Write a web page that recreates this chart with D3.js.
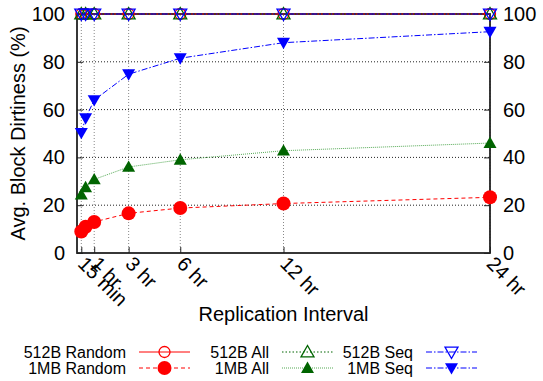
<!DOCTYPE html>
<html>
<head>
<meta charset="utf-8">
<script src="https://cdn.jsdelivr.net/npm/d3@7"></script>
<style>
  html, body { margin: 0; padding: 0; background: #fff; }
  svg { display: block; font-family: "Liberation Sans", Arial, Helvetica, sans-serif; }
</style>
</head>
<body>
<svg id="chart" width="543" height="381"></svg>
<script>
// Replication interval in hours
const intervals = [0.25, 0.5, 1, 3, 6, 12, 24];
const tickHours = [0.25, 1, 3, 6, 12, 24];
const tickLabels = ["15 min", "1 hr", "3 hr", "6 hr", "12 hr", "24 hr"];
const yTicks = [0, 20, 40, 60, 80, 100];

// Average block dirtiness (%) per series
const random512B = [100, 100, 100, 100, 100, 100, 100];
const random1MB  = [9.0, 11.0, 13.0, 16.6, 18.8, 20.7, 23.3];
const all512B    = [100, 100, 100, 100, 100, 100, 100];
const all1MB     = [24.4, 27.5, 30.8, 36.0, 39.0, 42.8, 46.0];
const seq512B    = [100, 100, 100, 100, 100, 100, 100];
const seq1MB     = [50.3, 56.4, 64.0, 74.8, 81.5, 88.0, 92.6];

const series = [
  { name: "512B Random", values: random512B, color: "#ff0000", lineColor: "#ff0000", dash: null, marker: "circle", filled: false },
  { name: "1MB Random",  values: random1MB,  color: "#ff0000", lineColor: "#ff0000", dash: "4,3", marker: "circle", filled: true },
  { name: "512B All",    values: all512B,    color: "#006400", lineColor: "#006400", dash: "1.5,2", marker: "triangle", filled: false },
  { name: "1MB All",     values: all1MB,     color: "#006400", lineColor: "#55aa55", dash: "1,1", marker: "triangle", filled: true },
  { name: "512B Seq",    values: seq512B,    color: "#0000ff", lineColor: "#0000ff", dash: "6,2,1.5,2", marker: "invtriangle", filled: false },
  { name: "1MB Seq",     values: seq1MB,     color: "#0000ff", lineColor: "#0000ff", dash: "6,2,1.5,2", marker: "invtriangle", filled: true }
];

const svg = d3.select("#chart");
const margin = { left: 77, right: 53, top: 14, bottom: 128 };
const W = 543, H = 381;
const x = d3.scaleLinear().domain([0, 24]).range([margin.left, W - margin.right]);
const y = d3.scaleLinear().domain([0, 100]).range([H - margin.bottom, margin.top]);

const tickFont = 20;
const titleFont = 20;

// Grid: horizontal dotted lines
svg.append("g").selectAll("line").data(yTicks.filter(v => v > 0 && v < 100)).join("line")
  .attr("x1", x(0)).attr("x2", x(24))
  .attr("y1", d => y(d)).attr("y2", d => y(d))
  .attr("stroke", "#222").attr("stroke-width", 1).attr("stroke-dasharray", "1,2");

// Grid: vertical dotted lines at interval ticks
svg.append("g").selectAll("line").data(tickHours).join("line")
  .attr("x1", d => x(d)).attr("x2", d => x(d))
  .attr("y1", y(0)).attr("y2", y(100))
  .attr("stroke", "#888").attr("stroke-width", 1).attr("stroke-dasharray", "1,2");

// Left and right axes
const leftAxis = d3.axisLeft(y).tickValues(yTicks).tickSize(-6).tickPadding(12);
const rightAxis = d3.axisRight(y).tickValues(yTicks).tickSize(-6).tickPadding(13);
const gl = svg.append("g").attr("transform", `translate(${x(0)},0)`).call(leftAxis);
const gr = svg.append("g").attr("transform", `translate(${x(24)},0)`).call(rightAxis);
[gl, gr].forEach(g => {
  g.select(".domain").remove();
  g.selectAll("text").attr("font-size", tickFont).attr("fill", "#000")
    .style("font-family", "Liberation Sans, Arial, sans-serif");
  g.selectAll("line").attr("stroke", "#222");
});

// Bottom axis with rotated labels
const bottomAxis = d3.axisBottom(x).tickValues(tickHours).tickFormat((d, i) => tickLabels[i]).tickSize(-6);
const gb = svg.append("g").attr("transform", `translate(0,${y(0)})`).call(bottomAxis);
gb.select(".domain").remove();
gb.selectAll("line").attr("stroke", "#222");
gb.selectAll("text")
  .attr("font-size", tickFont).attr("fill", "#000")
  .style("font-family", "Liberation Sans, Arial, sans-serif")
  .attr("text-anchor", "start")
  .attr("dy", null).attr("y", 0)
  .attr("transform", "translate(-5,12) rotate(45)");

// Frame
svg.append("rect")
  .attr("x", x(0)).attr("y", y(100))
  .attr("width", x(24) - x(0)).attr("height", y(0) - y(100))
  .attr("fill", "none").attr("stroke", "#222").attr("stroke-width", 1.8);

// Marker symbols
function drawMarker(g, kind, cx, cy, color, filled) {
  if (kind === "circle") {
    g.append("circle").attr("cx", cx).attr("cy", cy).attr("r", filled ? 7 : 5.5)
      .attr("fill", filled ? color : "none").attr("stroke", color).attr("stroke-width", filled ? 0 : 1.3);
  } else {
    const s = 6.5;
    const pts = kind === "triangle"
      ? [[cx, cy - s], [cx - s, cy + s * 0.75], [cx + s, cy + s * 0.75]]
      : [[cx, cy + s], [cx - s, cy - s * 0.75], [cx + s, cy - s * 0.75]];
    g.append("polygon").attr("points", pts.map(p => p.join(",")).join(" "))
      .attr("fill", filled ? color : "none").attr("stroke", color).attr("stroke-width", filled ? 0 : 1.3);
  }
}

const line = d3.line().x(d => x(d[0])).y(d => y(d[1]));
const plot = svg.append("g");
series.forEach(s => {
  const pts = intervals.map((h, i) => [h, s.values[i]]);
  plot.append("path").attr("d", line(pts))
    .attr("fill", "none").attr("stroke", s.lineColor).attr("stroke-width", 1)
    .attr("stroke-dasharray", s.dash);
});
series.forEach(s => {
  const g = plot.append("g");
  intervals.forEach((h, i) => drawMarker(g, s.marker, x(h), y(s.values[i]), s.color, s.filled));
});

// Axis titles
svg.append("text")
  .attr("transform", `translate(25,${(y(0) + y(100)) / 2}) rotate(-90)`)
  .attr("text-anchor", "middle").attr("font-size", titleFont).attr("fill", "#000")
  .text("Avg. Block Dirtiness (%)");
svg.append("text")
  .attr("x", (x(0) + x(24)) / 2).attr("y", 321)
  .attr("text-anchor", "middle").attr("font-size", titleFont).attr("fill", "#000")
  .text("Replication Interval");

// Legend: three columns, two rows
const legend = svg.append("g");
const colTextRight = [126, 269, 413];
const rowY = [352, 368];
series.forEach((s, i) => {
  const col = Math.floor(i / 2), row = i % 2;
  const tx = colTextRight[col], ty = rowY[row];
  legend.append("text").attr("x", tx).attr("y", ty).attr("dy", "0.35em")
    .attr("text-anchor", "end").attr("font-size", 16).attr("fill", "#000").text(s.name);
  const x1 = tx + 13, x2 = tx + 64;
  legend.append("line").attr("x1", x1).attr("x2", x2).attr("y1", ty).attr("y2", ty)
    .attr("stroke", s.lineColor).attr("stroke-width", 1).attr("stroke-dasharray", s.dash);
  drawMarker(legend, s.marker, (x1 + x2) / 2, ty, s.color, s.filled);
});
</script>
</body>
</html>
